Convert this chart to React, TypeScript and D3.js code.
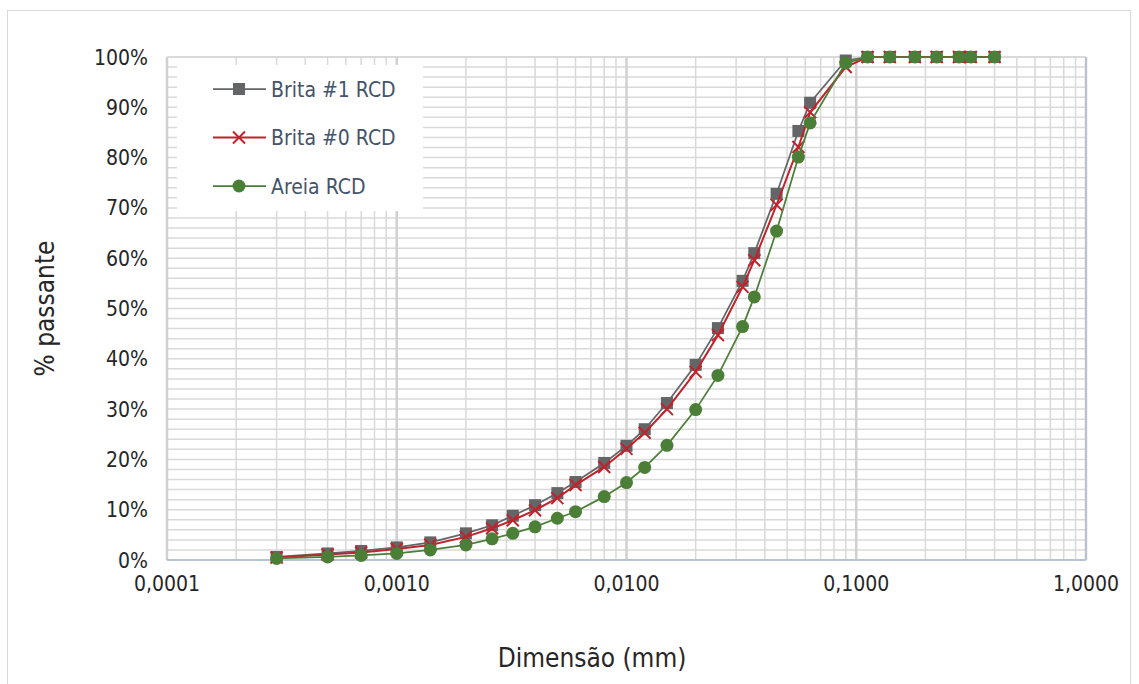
import { useMemo } from "react";
import * as d3 from "d3";

const width = 1139;
const height = 684;
const margin = { top: 57, right: 53, bottom: 124, left: 167 };

// particle sizes (mm) - same for all three samples
const sizes = [
  0.0003, 0.0005, 0.0007, 0.001, 0.0014, 0.002, 0.0026, 0.0032, 0.004, 0.005,
  0.006, 0.008, 0.01, 0.012, 0.015, 0.02, 0.025, 0.032, 0.036, 0.045, 0.056,
  0.063, 0.09, 0.112, 0.14, 0.18, 0.224, 0.28, 0.315, 0.4,
];
const brita1 = [
  0.6, 1.3, 1.8, 2.5, 3.5, 5.3, 6.9, 8.8, 10.9, 13.3, 15.5, 19.3, 22.7, 26.0,
  31.2, 38.8, 46.1, 55.5, 61.0, 72.8, 85.3, 90.9, 99.3, 100, 100, 100, 100, 100,
  100, 100,
];
const brita0 = [
  0.5, 1.1, 1.5, 2.2, 3.0, 4.6, 6.3, 7.9, 9.9, 12.3, 14.9, 18.5, 22.1, 25.3,
  30.0, 37.4, 44.7, 54.3, 59.6, 70.6, 82.1, 89.0, 98.0, 100, 100, 100, 100, 100,
  100, 100,
];
const areia = [
  0.3, 0.6, 0.9, 1.3, 2.0, 3.0, 4.2, 5.3, 6.6, 8.3, 9.6, 12.6, 15.4, 18.4, 22.8,
  29.9, 36.7, 46.4, 52.3, 65.4, 80.1, 86.9, 98.8, 100, 100, 100, 100, 100, 100,
  100,
];
const seriesNames = ["Brita #1 RCD", "Brita #0 RCD", "Areia RCD"];
const xTicks = [0.0001, 0.001, 0.01, 0.1, 1];
const xTickLabels = ["0,0001", "0,0010", "0,0100", "0,1000", "1,0000"];
const yTicks = [0, 10, 20, 30, 40, 50, 60, 70, 80, 90, 100];

const colors = ["#646567", "#c0232c", "#4b7f38"];
const font = "Tahoma, 'DejaVu Sans Condensed', 'DejaVu Sans', sans-serif";

const Marker = ({ kind, x, y }: { kind: number; x: number; y: number }) => {
  if (kind === 0)
    return <rect x={x - 6} y={y - 6} width={12} height={12} fill={colors[0]} />;
  if (kind === 1)
    return (
      <path
        d={`M${x - 6},${y - 6}L${x + 6},${y + 6}M${x - 6},${y + 6}L${x + 6},${y - 6}`}
        stroke={colors[1]}
        strokeWidth={2}
      />
    );
  return <circle cx={x} cy={y} r={6.5} fill={colors[2]} />;
};

export default function App() {
  const innerWidth = width - margin.left - margin.right;
  const innerHeight = height - margin.top - margin.bottom;

  const xScale = useMemo(
    () => d3.scaleLog().domain([0.0001, 1]).range([0, innerWidth]),
    [innerWidth]
  );
  const yScale = useMemo(
    () => d3.scaleLinear().domain([0, 100]).range([innerHeight, 0]),
    [innerHeight]
  );

  const series = [brita1, brita0, areia].map((vals) =>
    sizes.map((s, i) => ({ x: s, y: vals[i] }))
  );
  const line = d3
    .line<{ x: number; y: number }>()
    .x((d) => xScale(d.x))
    .y((d) => yScale(d.y));

  const minorX: number[] = [];
  for (let e = -4; e < 0; e++) {
    for (let k = 2; k <= 9; k++) minorX.push(k * Math.pow(10, e));
  }
  const hGrid = d3.range(2, 100, 2);

  return (
    <svg
      width={width}
      height={height}
      style={{ position: "absolute", left: 0, top: 0, background: "#fff" }}
      fontFamily={font}
    >
      <rect x={7.5} y={10.5} width={1123} height={690} fill="#fff" stroke="#d9d9d9" />
      <g transform={`translate(${margin.left},${margin.top})`}>
        {hGrid.map((v) => (
          <line key={"h" + v} x1={0} x2={innerWidth} y1={yScale(v)} y2={yScale(v)} stroke="#d9d9d9" strokeWidth={1.5} />
        ))}
        {minorX.map((v) => (
          <line key={"v" + v} x1={xScale(v)} x2={xScale(v)} y1={0} y2={innerHeight} stroke="#d9d9d9" strokeWidth={1.5} />
        ))}
        {xTicks.map((v) => (
          <line key={"M" + v} x1={xScale(v)} x2={xScale(v)} y1={0} y2={innerHeight} stroke="#d0d0d0" strokeWidth={2.5} />
        ))}
        <line x1={0} x2={innerWidth} y1={0} y2={0} stroke="#d9d9d9" strokeWidth={2} />
        <line x1={0} x2={innerWidth} y1={innerHeight} y2={innerHeight} stroke="#b7c3d3" strokeWidth={2} />
        <line x1={innerWidth} x2={innerWidth} y1={0} y2={innerHeight} stroke="#b7c3d3" strokeWidth={2} />

        {/* legend */}
        <rect x={10} y={8} width={246} height={146} fill="#fff" />
        {seriesNames.map((name, i) => {
          const ly = 32 + i * 48.5;
          return (
            <g key={name}>
              <line x1={46} x2={99} y1={ly} y2={ly} stroke={colors[i]} strokeWidth={i === 1 ? 2 : 1.75} />
              <Marker kind={i} x={72} y={ly} />
              <text x={104} y={ly} dy="0.36em" fontSize={21} fill="#44546a">
                {name}
              </text>
            </g>
          );
        })}

        {series.map((pts, i) => (
          <g key={"s" + i}>
            <path d={line(pts) || ""} fill="none" stroke={colors[i]} strokeWidth={i === 1 ? 2 : 1.75} />
            {pts.map((p, j) => (
              <Marker key={j} kind={i} x={xScale(p.x)} y={yScale(p.y)} />
            ))}
          </g>
        ))}

        {yTicks.map((v) => (
          <text key={"yl" + v} x={-19} y={yScale(v)} dy="0.36em" textAnchor="end" fontSize={21} fill="#262626">
            {v + "%"}
          </text>
        ))}
        {xTicks.map((v, i) => (
          <text key={"xl" + v} x={xScale(v)} y={innerHeight + 23} dy="0.36em" textAnchor="middle" fontSize={21} fill="#262626">
            {xTickLabels[i]}
          </text>
        ))}
      </g>
      <text x={592} y={658} dy="0.36em" textAnchor="middle" fontSize={26} fill="#262626">
        Dimensão (mm)
      </text>
      <text
        transform={`translate(45,${margin.top + innerHeight / 2}) rotate(-90)`}
        dy="0.36em"
        textAnchor="middle"
        fontSize={26}
        fill="#262626"
      >
        % passante
      </text>
    </svg>
  );
}
